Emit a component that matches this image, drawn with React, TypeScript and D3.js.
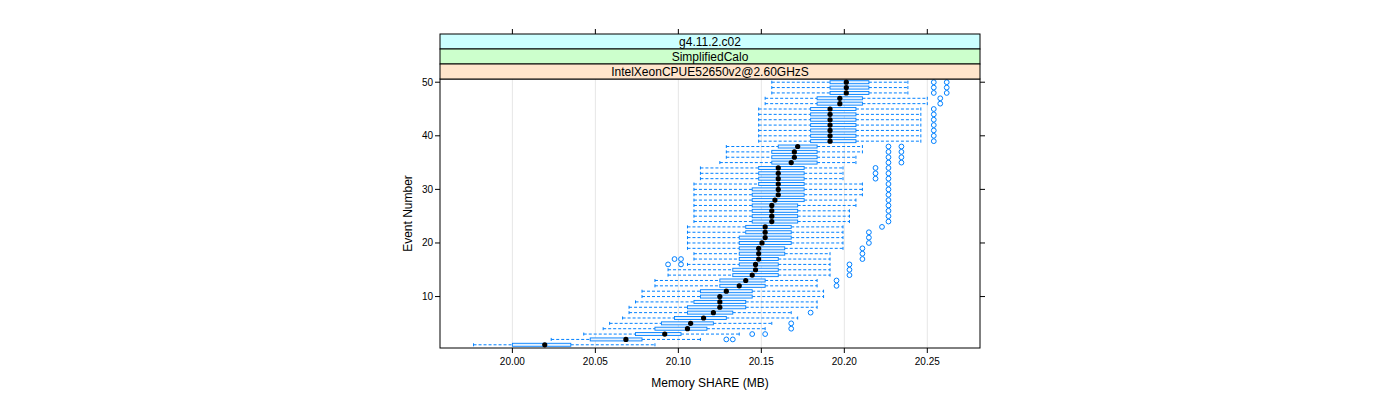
import React from "react";
import * as d3 from "d3";

// Event numbers (categories on the y axis)
const events: number[] = d3.range(1, 51);

// Box statistics per event, Memory SHARE in MB
const whiskerLow: number[] = [
  19.9766, 20.0234, 20.0430, 20.0547, 20.0586, 20.0664, 20.0703, 20.0703, 20.0742, 20.0781,
  20.0781, 20.0859, 20.0859, 20.0938, 20.0938, 20.1055, 20.1094, 20.1094, 20.1055, 20.1055,
  20.1055, 20.1055, 20.1055, 20.1094, 20.1094, 20.1094, 20.1094, 20.1094, 20.1094, 20.1094,
  20.1094, 20.1133, 20.1133, 20.1133, 20.1250, 20.1289, 20.1289, 20.1289, 20.1484, 20.1484,
  20.1484, 20.1484, 20.1484, 20.1484, 20.1484, 20.1523, 20.1523, 20.1563, 20.1563, 20.1563,
];
const quartile1: number[] = [
  20.0000, 20.0469, 20.0742, 20.0859, 20.0898, 20.0977, 20.1055, 20.1055, 20.1094, 20.1133,
  20.1133, 20.1250, 20.1250, 20.1328, 20.1328, 20.1367, 20.1367, 20.1367, 20.1367, 20.1367,
  20.1367, 20.1406, 20.1406, 20.1445, 20.1445, 20.1445, 20.1445, 20.1445, 20.1445, 20.1445,
  20.1484, 20.1484, 20.1484, 20.1484, 20.1563, 20.1563, 20.1563, 20.1602, 20.1797, 20.1797,
  20.1797, 20.1797, 20.1797, 20.1797, 20.1797, 20.1836, 20.1836, 20.1914, 20.1914, 20.1914,
];
const medians: number[] = [
  20.0195, 20.0684, 20.0918, 20.1055, 20.1074, 20.1152, 20.1211, 20.1250, 20.1250, 20.1250,
  20.1289, 20.1367, 20.1406, 20.1445, 20.1465, 20.1465, 20.1484, 20.1484, 20.1484, 20.1504,
  20.1523, 20.1523, 20.1523, 20.1563, 20.1563, 20.1563, 20.1563, 20.1582, 20.1602, 20.1602,
  20.1602, 20.1602, 20.1602, 20.1602, 20.1680, 20.1699, 20.1699, 20.1719, 20.1914, 20.1914,
  20.1914, 20.1914, 20.1914, 20.1914, 20.1914, 20.1973, 20.1973, 20.2012, 20.2012, 20.2012,
];
const quartile3: number[] = [
  20.0352, 20.0781, 20.1016, 20.1172, 20.1211, 20.1289, 20.1328, 20.1406, 20.1406, 20.1445,
  20.1445, 20.1523, 20.1523, 20.1602, 20.1602, 20.1602, 20.1602, 20.1641, 20.1641, 20.1680,
  20.1680, 20.1680, 20.1680, 20.1719, 20.1719, 20.1719, 20.1719, 20.1758, 20.1758, 20.1758,
  20.1758, 20.1758, 20.1758, 20.1758, 20.1836, 20.1836, 20.1836, 20.1836, 20.2070, 20.2070,
  20.2070, 20.2070, 20.2070, 20.2070, 20.2070, 20.2109, 20.2109, 20.2148, 20.2148, 20.2148,
];
const whiskerHigh: number[] = [
  20.0859, 20.1133, 20.1367, 20.1523, 20.1563, 20.1719, 20.1680, 20.1836, 20.1836, 20.1875,
  20.1875, 20.1836, 20.1836, 20.1914, 20.1914, 20.1914, 20.1914, 20.1914, 20.1992, 20.1992,
  20.1992, 20.1992, 20.1992, 20.2031, 20.2031, 20.2031, 20.2070, 20.2070, 20.2109, 20.2109,
  20.2109, 20.1992, 20.1992, 20.1992, 20.2070, 20.2070, 20.2109, 20.2109, 20.2461, 20.2461,
  20.2461, 20.2461, 20.2461, 20.2461, 20.2461, 20.2500, 20.2500, 20.2383, 20.2383, 20.2383,
];
const outliers: number[][] = [
  [], [20.1289, 20.1328], [20.1445, 20.1523], [20.1680], [20.1680],
  [], [20.1797], [], [], [],
  [], [20.1953], [20.1953], [20.2031], [20.2031],
  [20.0938, 20.1016, 20.2031], [20.0977, 20.1016, 20.2109], [20.2109], [20.2109], [20.2148],
  [20.2148], [20.2148], [20.2227], [20.2266], [20.2266],
  [20.2266], [20.2266], [20.2266], [20.2266], [20.2266],
  [20.2266], [20.2188, 20.2266], [20.2188, 20.2266], [20.2188, 20.2266], [20.2266, 20.2344],
  [20.2266, 20.2344], [20.2266, 20.2344], [20.2266, 20.2344], [20.2539], [20.2539],
  [20.2539], [20.2539], [20.2539], [20.2539], [20.2539],
  [20.2578], [20.2578], [20.2539, 20.2617], [20.2539, 20.2617], [20.2539, 20.2617],
];

const xTicks: number[] = [20.0, 20.05, 20.1, 20.15, 20.2, 20.25];
const yTicks: number[] = [10, 20, 30, 40, 50];
const stripLabels: string[] = ["g4.11.2.c02", "SimplifiedCalo", "IntelXeonCPUE52650v2@2.60GHzS"];
const stripColors: string[] = ["#ccffff", "#ccffcc", "#ffe5cc"];

const BLUE = "#0080ff";
const FONT = "'Liberation Sans', Arial, Helvetica, sans-serif";

export default function App() {
  const W = 1400, H = 400;
  const left = 440, right = 980, top = 79, bottom = 348;
  const stripH = 15;
  const stripTop = top - stripH * stripLabels.length;

  const x = d3.scaleLinear().domain([19.95639, 20.28175]).range([left, right]);
  const y = d3.scaleLinear().domain([0.4, 50.6]).range([bottom, top]);
  const bh = 1.5; // half box height
  const capH = 1.5;

  return (
    <svg width={W} height={H} style={{ position: "absolute", left: 0, top: 0, background: "#fff" }}
      fontFamily={FONT}>
      {/* grid */}
      {xTicks.map((t) => (
        <line key={"g" + t} x1={x(t)} x2={x(t)} y1={top} y2={bottom} stroke="#e6e6e6" strokeWidth={1} />
      ))}
      {/* boxes */}
      {events.map((e, i) => {
        const cy = y(e);
        return (
          <g key={"e" + e}>
            <line x1={x(whiskerLow[i])} x2={x(quartile1[i])} y1={cy} y2={cy} stroke={BLUE} strokeDasharray="3,2" strokeWidth={1} />
            <line x1={x(quartile3[i])} x2={x(whiskerHigh[i])} y1={cy} y2={cy} stroke={BLUE} strokeDasharray="3,2" strokeWidth={1} />
            <line x1={x(whiskerLow[i])} x2={x(whiskerLow[i])} y1={cy - capH} y2={cy + capH} stroke={BLUE} strokeWidth={1} />
            <line x1={x(whiskerHigh[i])} x2={x(whiskerHigh[i])} y1={cy - capH} y2={cy + capH} stroke={BLUE} strokeWidth={1} />
            <rect x={x(quartile1[i])} y={cy - bh} width={x(quartile3[i]) - x(quartile1[i])} height={bh * 2}
              fill="#e8f3ff" stroke={BLUE} strokeWidth={0.9} />
            {outliers[i].map((o, j) => (
              <circle key={j} cx={x(o)} cy={cy} r={2.4} fill="none" stroke={BLUE} strokeWidth={1} />
            ))}
            <circle cx={x(medians[i])} cy={cy} r={2.6} fill="#000" />
          </g>
        );
      })}
      {/* panel border */}
      <rect x={left} y={top} width={right - left} height={bottom - top} fill="none" stroke="#000" strokeWidth={1} />
      {/* strips */}
      {stripLabels.map((s, k) => {
        const sy = stripTop + k * stripH;
        return (
          <g key={"s" + k}>
            <rect x={left} y={sy} width={right - left} height={stripH} fill={stripColors[k]} stroke="#000" strokeWidth={1} />
            <text x={(left + right) / 2} y={sy + stripH / 2 + 4.5} textAnchor="middle" fontSize={12} fill="#000">{s}</text>
          </g>
        );
      })}
      {/* x ticks */}
      {xTicks.map((t) => (
        <g key={"xt" + t}>
          <line x1={x(t)} x2={x(t)} y1={bottom} y2={bottom + 5} stroke="#000" />
          <line x1={x(t)} x2={x(t)} y1={stripTop} y2={stripTop - 5} stroke="#000" />
          <text x={x(t)} y={bottom + 17} textAnchor="middle" fontSize={10} fill="#000">{d3.format(".2f")(t)}</text>
        </g>
      ))}
      {/* y ticks */}
      {yTicks.map((t) => (
        <g key={"yt" + t}>
          <line x1={left - 5} x2={left} y1={y(t)} y2={y(t)} stroke="#000" />
          <line x1={right} x2={right + 5} y1={y(t)} y2={y(t)} stroke="#000" />
          <text x={left - 7} y={y(t) + 3.5} textAnchor="end" fontSize={10} fill="#000">{t}</text>
        </g>
      ))}
      {/* axis titles */}
      <text x={(left + right) / 2} y={387} textAnchor="middle" fontSize={12} fill="#000">Memory SHARE (MB)</text>
      <text transform={`translate(412,${(top + bottom) / 2}) rotate(-90)`} textAnchor="middle" fontSize={12} fill="#000">Event Number</text>
    </svg>
  );
}
